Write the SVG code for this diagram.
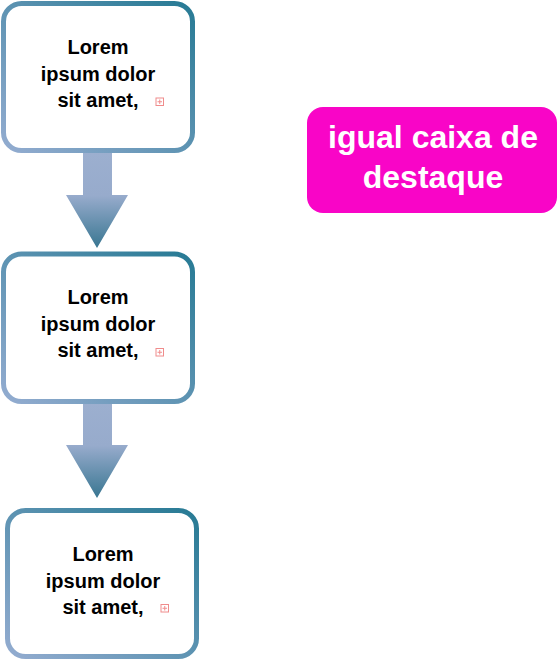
<svg xmlns="http://www.w3.org/2000/svg" width="558" height="661" viewBox="0 0 558 661">
<defs>
<linearGradient id="bord" x1="0" y1="1" x2="1" y2="0">
<stop offset="0" stop-color="#93acd0"/>
<stop offset="1" stop-color="#277a94"/>
</linearGradient>
<linearGradient id="arr" x1="0" y1="0" x2="0" y2="1">
<stop offset="0" stop-color="#9cafcf"/>
<stop offset="0.45" stop-color="#97abcc"/>
<stop offset="1" stop-color="#387691"/>
</linearGradient>
<g id="ico">
<rect x="0.5" y="0.5" width="7.5" height="7.5" fill="none" stroke="#f08c8c" stroke-width="1"/>
<path d="M4.25 2v4.5M2 4.25h4.5" stroke="#f08c8c" stroke-width="1"/>
</g>
</defs>
<style>
.box{fill:#fff;stroke:url(#bord);stroke-width:5}
.t{font-family:"Liberation Sans",Arial,sans-serif;font-weight:bold;font-size:20px;fill:#000;text-anchor:middle}
.h{font-family:"Liberation Sans",Arial,sans-serif;font-weight:bold;font-size:32px;fill:#fff;text-anchor:middle}
</style>
<g id="connectors">
<path d="M83 153h29v42h16l-31 53l-31-53h17z" fill="url(#arr)"/>
<path d="M83 403h29v42h16l-31 53l-31-53h17z" fill="url(#arr)"/>
</g>
<g id="node1">
<rect class="box" x="3.5" y="3.5" width="189" height="147" rx="18"/>
<text class="t" x="98" y="54">Lorem</text>
<text class="t" x="98" y="81">ipsum dolor</text>
<text class="t" x="98" y="107">sit amet,</text>
<use href="#ico" x="155.5" y="97.5"/>
</g>
<g id="node2">
<rect class="box" x="3.5" y="254" width="189" height="147.5" rx="18"/>
<text class="t" x="98" y="304">Lorem</text>
<text class="t" x="98" y="331">ipsum dolor</text>
<text class="t" x="98" y="357">sit amet,</text>
<use href="#ico" x="155.5" y="348"/>
</g>
<g id="node3">
<rect class="box" x="7.5" y="510.5" width="189" height="146" rx="18"/>
<text class="t" x="103" y="561">Lorem</text>
<text class="t" x="103" y="588">ipsum dolor</text>
<text class="t" x="103" y="614">sit amet,</text>
<use href="#ico" x="160.5" y="604"/>
</g>
<g id="highlight">
<rect x="307" y="107" width="250" height="106" rx="16" fill="#f905c7"/>
<text class="h" x="433" y="148">igual caixa de</text>
<text class="h" x="433" y="188">destaque</text>
</g>
</svg>
